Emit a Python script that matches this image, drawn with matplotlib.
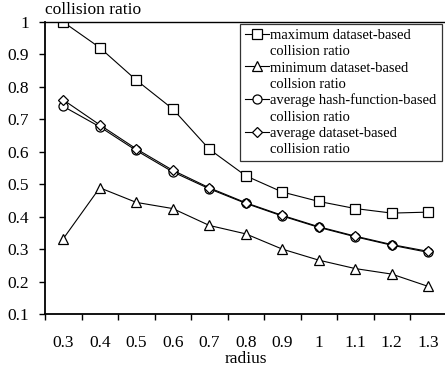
import numpy as np
import matplotlib.pyplot as plt
from matplotlib.lines import Line2D

# values
radius = ['0.3', '0.4', '0.5', '0.6', '0.7', '0.8', '0.9', '1', '1.1', '1.2', '1.3']
max_dataset = [1.0, 0.921, 0.821, 0.732, 0.608, 0.526, 0.476, 0.447, 0.425, 0.411, 0.414]
min_dataset = [0.332, 0.489, 0.444, 0.425, 0.373, 0.347, 0.300, 0.266, 0.240, 0.223, 0.185]
avg_hash = [0.740, 0.677, 0.604, 0.538, 0.486, 0.441, 0.402, 0.367, 0.338, 0.312, 0.290]
avg_dataset = [0.760, 0.683, 0.609, 0.543, 0.489, 0.443, 0.404, 0.369, 0.340, 0.314, 0.293]

labels = [('maximum dataset-based', 'collision ratio'),
          ('minimum dataset-based', 'collsion ratio'),
          ('average hash-function-based', 'collision ratio'),
          ('average dataset-based', 'collision ratio')]

plt.rcParams['font.family'] = ['Liberation Serif', 'DejaVu Serif']

fig = plt.figure(figsize=(4.45, 3.68), dpi=100)
ax = fig.add_axes([45 / 445, 1 - 314 / 368, (446.5 - 45) / 445, (314 - 22) / 368])

x = np.arange(len(radius))
style = dict(color='black', lw=0.8, mfc='white', mec='black', mew=0.9)
lines = []
lines += ax.plot(x, max_dataset, marker='s', ms=6.5, **style)
lines += ax.plot(x, min_dataset, marker='^', ms=7, **style)
lines += ax.plot(x, avg_hash, marker='o', ms=6.5, **style)
lines += ax.plot(x, avg_dataset, marker='D', ms=5, **style)

ax.set_xlim(-0.5, len(radius) - 0.5)
ax.set_ylim(0.1, 1.0)
ax.set_yticks(np.arange(0.1, 1.01, 0.1))
ax.set_yticklabels(['0.1', '0.2', '0.3', '0.4', '0.5', '0.6', '0.7', '0.8', '0.9', '1'])

# ticks sit between categories, labels at centers
ax.set_xticks(np.arange(-0.5, len(radius), 1.0))
ax.set_xticklabels([])
ax.set_xticks(x, minor=True)
ax.set_xticklabels(radius, minor=True)
ax.tick_params(axis='x', which='minor', length=0, pad=15, labelsize=12.5)
ax.tick_params(axis='x', which='major', length=4, width=1, direction='out')
ax.tick_params(axis='y', length=4.5, width=1, direction='out', pad=7, labelsize=12.5)

for side in ['left', 'bottom']:
    ax.spines[side].set_linewidth(1.3)
ax.spines['top'].set_linewidth(1.0)
ax.spines['right'].set_visible(False)

ax.text(0.0, 1.012, 'collision ratio', transform=ax.transAxes, ha='left', va='bottom', fontsize=12.5)
ax.set_xlabel('radius', fontsize=12.5, labelpad=0)

# two legend rows per series, marker on the first row only
handles, texts = [], []
for ln, (l1, l2) in zip(lines, labels):
    handles += [ln, Line2D([], [], linestyle='none')]
    texts += [l1, l2]

leg = ax.legend(handles, texts, loc='upper right', bbox_to_anchor=(441.7 / 445, 1 - 24 / 368),
                bbox_transform=fig.transFigure, fontsize=10.5, frameon=True,
                fancybox=False, handlelength=1.6, handletextpad=0.12,
                borderpad=0.35, labelspacing=0.2, borderaxespad=0)
leg.get_frame().set_edgecolor('black')
leg.get_frame().set_linewidth(0.9)

fig.savefig('out.png', dpi=100)
